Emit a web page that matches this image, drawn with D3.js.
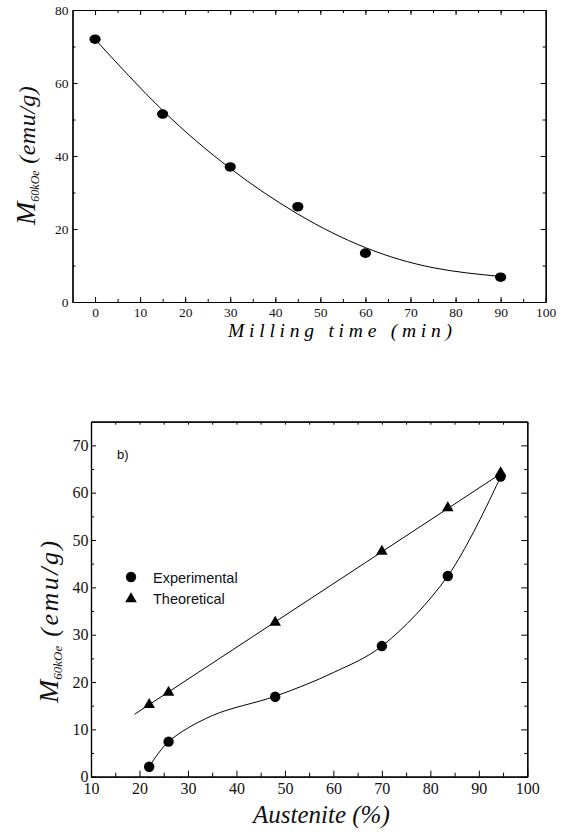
<!DOCTYPE html>
<html>
<head>
<meta charset="utf-8">
<script src="https://cdn.jsdelivr.net/npm/d3@7"></script>
<style>
  body { margin: 0; background: #fff; }
  .serif { font-family: "Liberation Serif", Tinos, "Times New Roman", "DejaVu Serif", serif; }
  .sans { font-family: "Liberation Sans", Arimo, Arial, sans-serif; }
</style>
</head>
<body>
<div id="chart"></div>
<script>
// Panel a: magnetisation vs milling time
const millTime = [0, 15, 30, 45, 60, 90];
const millM = [72, 51.5, 37, 26.1, 13.4, 6.8];
// fitted curve
const millFitX = [0, 15, 30, 45, 60, 75, 90];
const millFitY = [72, 52.5, 36.6, 24.1, 14.9, 9.4, 7.0];
const millTicks = [0, 10, 20, 30, 40, 50, 60, 70, 80, 90, 100];
const millMTicks = [0, 20, 40, 60, 80];

// Panel b: magnetisation vs austenite content
const austX = [22, 26, 48, 70, 83.6, 94.5];
const expM = [2.1, 7.4, 16.9, 27.6, 42.4, 63.4];
const theoM = [15.2, 17.8, 32.6, 47.6, 56.8, 64.2];
const expFitX = [22, 26, 35, 48, 60, 70, 83.6, 94.5];
const expFitY = [2.1, 7.4, 12.9, 17.0, 22.0, 27.6, 42.4, 63.4];
const theoFitX = [19, 94.5];
const theoFitY = [13.2, 64.0];
const austTicks = [10, 20, 30, 40, 50, 60, 70, 80, 90, 100];
const austMTicks = [0, 10, 20, 30, 40, 50, 60, 70];
const legendLabels = ["Experimental", "Theoretical"];

const W = 561, H = 832;

const svg = d3.select("#chart").append("svg")
  .attr("width", W).attr("height", H)
  .attr("viewBox", [0, 0, W, H]);

// helper: draw one set of inward ticks on one side
function ticks(g, axisFn, scale, values, size, pos, labelClass, fontSize, pad) {
  const a = axisFn(scale).tickValues(values).tickSizeInner(-size).tickSizeOuter(0)
    .tickPadding(pad || 3);
  if (!labelClass) a.tickFormat("");
  const sel = g.append("g").attr("transform", pos).call(a);
  sel.attr("font-family", null).attr("font-size", null);
  sel.selectAll("line").attr("stroke", "#000").attr("stroke-width", 1);
  sel.select(".domain").attr("stroke", "#000").attr("stroke-width", 1.2);
  sel.selectAll("text").attr("class", labelClass).attr("fill", "#111")
    .style("font-size", fontSize + "px");
  return sel;
}

// ---------------- Panel a ----------------
{
  const L = 72.5, R = 545.7, T = 10, B = 302;
  const x = d3.scaleLinear().domain([-5, 100]).range([L, R]);
  const y = d3.scaleLinear().domain([0, 80]).range([B, T]);
  const g = svg.append("g");
  const minorX = d3.range(0, 100, 5);
  const minorY = d3.range(10, 80, 20);

  ticks(g, d3.axisBottom, x, minorX, 3, `translate(0,${B})`);
  ticks(g, d3.axisBottom, x, millTicks, 5, `translate(0,${B})`, "serif", 13.5, 5);
  ticks(g, d3.axisTop, x, minorX, 3, `translate(0,${T})`);
  ticks(g, d3.axisTop, x, millTicks, 5, `translate(0,${T})`);
  ticks(g, d3.axisLeft, y, minorY, 3, `translate(${L},0)`);
  ticks(g, d3.axisLeft, y, millMTicks, 5, `translate(${L},0)`, "serif", 13.5, 4);
  ticks(g, d3.axisRight, y, minorY, 3, `translate(${R},0)`);
  ticks(g, d3.axisRight, y, millMTicks, 5, `translate(${R},0)`);

  const line = d3.line().x(d => x(d[0])).y(d => y(d[1])).curve(d3.curveNatural);
  g.append("path")
    .datum(d3.zip(millFitX, millFitY))
    .attr("fill", "none").attr("stroke", "#000").attr("stroke-width", 1)
    .attr("d", line);

  g.append("g").selectAll("ellipse")
    .data(d3.zip(millTime, millM))
    .join("ellipse")
    .attr("cx", d => x(d[0])).attr("cy", d => y(d[1]))
    .attr("rx", 5.6).attr("ry", 4.8).attr("fill", "#000");

  g.append("text")
    .attr("class", "serif")
    .attr("x", 228).attr("y", 337)
    .style("font-style", "italic").style("font-size", "19.5px")
    .attr("textLength", 224).attr("lengthAdjust", "spacing")
    .text("Milling time (min)");

  const yl = g.append("text")
    .attr("class", "serif")
    .attr("transform", "translate(35,225) rotate(-90)")
    .style("font-style", "italic").attr("fill", "#111");
  yl.append("tspan").style("font-size", "28px").text("M");
  yl.append("tspan").style("font-size", "12px").attr("dy", 4).text("60kOe");
  yl.append("tspan").style("font-size", "24px").attr("dy", -4).attr("letter-spacing", 0.5).text(" (emu/g)");
}

// ---------------- Panel b ----------------
{
  const L = 91, R = 527.3, T = 421.7, B = 776.7;
  const x = d3.scaleLinear().domain([10, 100]).range([L, R]);
  const y = d3.scaleLinear().domain([0, 75]).range([B, T]);
  const g = svg.append("g");
  const minorX = d3.range(15, 100, 10);
  const minorY = d3.range(5, 75, 10);

  ticks(g, d3.axisBottom, x, minorX, 4, `translate(0,${B})`);
  ticks(g, d3.axisBottom, x, austTicks, 6, `translate(0,${B})`, "serif", 16, 5.5);
  ticks(g, d3.axisTop, x, minorX, 3, `translate(0,${T})`);
  ticks(g, d3.axisTop, x, austTicks, 3, `translate(0,${T})`);
  ticks(g, d3.axisLeft, y, minorY, 3, `translate(${L},0)`);
  ticks(g, d3.axisLeft, y, austMTicks, 5, `translate(${L},0)`, "serif", 16, 2.5);
  ticks(g, d3.axisRight, y, minorY, 3, `translate(${R},0)`);
  ticks(g, d3.axisRight, y, austMTicks, 6, `translate(${R},0)`);

  const straight = d3.line().x(d => x(d[0])).y(d => y(d[1]));
  const smooth = d3.line().x(d => x(d[0])).y(d => y(d[1])).curve(d3.curveCatmullRom.alpha(0.5));
  g.append("path")
    .datum(d3.zip(theoFitX, theoFitY))
    .attr("fill", "none").attr("stroke", "#000").attr("stroke-width", 1)
    .attr("d", straight);
  g.append("path")
    .datum(d3.zip(expFitX, expFitY))
    .attr("fill", "none").attr("stroke", "#000").attr("stroke-width", 1)
    .attr("d", smooth);

  const tri = d3.symbol().type(d3.symbolTriangle).size(58);
  g.append("g").selectAll("path")
    .data(d3.zip(austX, theoM))
    .join("path")
    .attr("transform", d => `translate(${x(d[0])},${y(d[1])})`)
    .attr("d", tri).attr("fill", "#000");
  g.append("g").selectAll("circle")
    .data(d3.zip(austX, expM))
    .join("circle")
    .attr("cx", d => x(d[0])).attr("cy", d => y(d[1]))
    .attr("r", 5.2).attr("fill", "#000");

  // panel tag and legend
  g.append("text").attr("class", "sans").attr("x", 117).attr("y", 459)
    .style("font-size", "13px").attr("fill", "#111").text("b)");

  const leg = g.append("g").attr("transform", "translate(131,577)");
  leg.append("circle").attr("r", 5.2).attr("fill", "#000");
  leg.append("path").attr("transform", "translate(0,22)").attr("d", tri).attr("fill", "#000");
  leg.selectAll("text")
    .data(legendLabels)
    .join("text")
    .attr("class", "sans")
    .attr("x", 22).attr("y", (d, i) => i * 21 + 5.5)
    .style("font-size", "14.5px").attr("fill", "#111")
    .text(d => d);

  g.append("text")
    .attr("class", "serif")
    .attr("x", 253).attr("y", 823)
    .style("font-style", "italic").style("font-size", "25px")
    .attr("fill", "#111")
    .text("Austenite (%)");

  const yl = g.append("text")
    .attr("class", "serif")
    .attr("transform", "translate(58,703) rotate(-90)")
    .style("font-style", "italic").attr("fill", "#111");
  yl.append("tspan").style("font-size", "28px").text("M");
  yl.append("tspan").style("font-size", "13px").attr("dy", 4).text("60kOe");
  yl.append("tspan").style("font-size", "26px").attr("dy", -4).attr("letter-spacing", 2.5).text(" (emu/g)");
}
</script>
</body>
</html>
